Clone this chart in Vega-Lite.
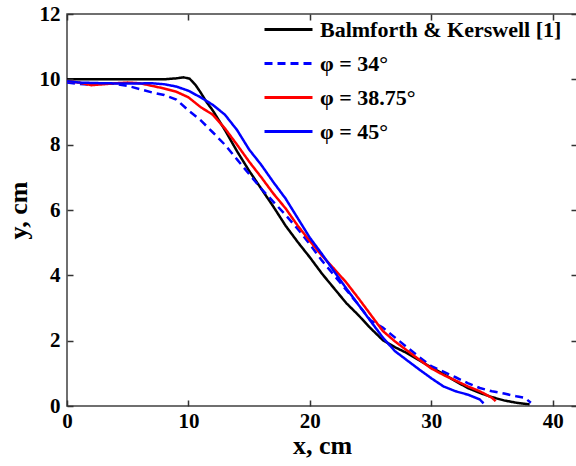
{
  "$schema": "https://vega.github.io/schema/vega-lite/v6.json",
  "width": 510,
  "height": 392,
  "autosize": {"type": "none"},
  "padding": {"left": 67, "top": 14, "right": 0, "bottom": 60},
  "background": "white",
  "config": {
    "view": {"stroke": "#404040", "strokeWidth": 1.5},
    "font": "Liberation Serif"
  },
  "datasets": {
    "curves": [
      {"s": "Balmforth & Kerswell [1]", "x": 0, "y": 10.0},
      {"s": "Balmforth & Kerswell [1]", "x": 4, "y": 10.0},
      {"s": "Balmforth & Kerswell [1]", "x": 8, "y": 10.0},
      {"s": "Balmforth & Kerswell [1]", "x": 9, "y": 10.03},
      {"s": "Balmforth & Kerswell [1]", "x": 9.6, "y": 10.06},
      {"s": "Balmforth & Kerswell [1]", "x": 10.1, "y": 10.02},
      {"s": "Balmforth & Kerswell [1]", "x": 10.6, "y": 9.82},
      {"s": "Balmforth & Kerswell [1]", "x": 11, "y": 9.6},
      {"s": "Balmforth & Kerswell [1]", "x": 11.5, "y": 9.3},
      {"s": "Balmforth & Kerswell [1]", "x": 12, "y": 9.05},
      {"s": "Balmforth & Kerswell [1]", "x": 12.5, "y": 8.75},
      {"s": "Balmforth & Kerswell [1]", "x": 13, "y": 8.45},
      {"s": "Balmforth & Kerswell [1]", "x": 14, "y": 7.8},
      {"s": "Balmforth & Kerswell [1]", "x": 15, "y": 7.2},
      {"s": "Balmforth & Kerswell [1]", "x": 16, "y": 6.65},
      {"s": "Balmforth & Kerswell [1]", "x": 17, "y": 6.1},
      {"s": "Balmforth & Kerswell [1]", "x": 18, "y": 5.52},
      {"s": "Balmforth & Kerswell [1]", "x": 19, "y": 5.02},
      {"s": "Balmforth & Kerswell [1]", "x": 20, "y": 4.55},
      {"s": "Balmforth & Kerswell [1]", "x": 21, "y": 4.05},
      {"s": "Balmforth & Kerswell [1]", "x": 22, "y": 3.6},
      {"s": "Balmforth & Kerswell [1]", "x": 23, "y": 3.15},
      {"s": "Balmforth & Kerswell [1]", "x": 24, "y": 2.78},
      {"s": "Balmforth & Kerswell [1]", "x": 25, "y": 2.38},
      {"s": "Balmforth & Kerswell [1]", "x": 26, "y": 2.02},
      {"s": "Balmforth & Kerswell [1]", "x": 27, "y": 1.8},
      {"s": "Balmforth & Kerswell [1]", "x": 28, "y": 1.62},
      {"s": "Balmforth & Kerswell [1]", "x": 29, "y": 1.4},
      {"s": "Balmforth & Kerswell [1]", "x": 30, "y": 1.18},
      {"s": "Balmforth & Kerswell [1]", "x": 31, "y": 0.98},
      {"s": "Balmforth & Kerswell [1]", "x": 32, "y": 0.76},
      {"s": "Balmforth & Kerswell [1]", "x": 33, "y": 0.55},
      {"s": "Balmforth & Kerswell [1]", "x": 34, "y": 0.4},
      {"s": "Balmforth & Kerswell [1]", "x": 35, "y": 0.27},
      {"s": "Balmforth & Kerswell [1]", "x": 36, "y": 0.17},
      {"s": "Balmforth & Kerswell [1]", "x": 37, "y": 0.1},
      {"s": "Balmforth & Kerswell [1]", "x": 38.1, "y": 0.05},

      {"s": "φ = 34°", "x": 0, "y": 9.9},
      {"s": "φ = 34°", "x": 1, "y": 9.86},
      {"s": "φ = 34°", "x": 2, "y": 9.84},
      {"s": "φ = 34°", "x": 3, "y": 9.88},
      {"s": "φ = 34°", "x": 4, "y": 9.86},
      {"s": "φ = 34°", "x": 5, "y": 9.8},
      {"s": "φ = 34°", "x": 6, "y": 9.7},
      {"s": "φ = 34°", "x": 7, "y": 9.6},
      {"s": "φ = 34°", "x": 8, "y": 9.52},
      {"s": "φ = 34°", "x": 9, "y": 9.38},
      {"s": "φ = 34°", "x": 10, "y": 9.05},
      {"s": "φ = 34°", "x": 11, "y": 8.75},
      {"s": "φ = 34°", "x": 12, "y": 8.38},
      {"s": "φ = 34°", "x": 13, "y": 8.0},
      {"s": "φ = 34°", "x": 14, "y": 7.55},
      {"s": "φ = 34°", "x": 15, "y": 7.1},
      {"s": "φ = 34°", "x": 16, "y": 6.65},
      {"s": "φ = 34°", "x": 17, "y": 6.25},
      {"s": "φ = 34°", "x": 18, "y": 5.85},
      {"s": "φ = 34°", "x": 19, "y": 5.42},
      {"s": "φ = 34°", "x": 20, "y": 4.95},
      {"s": "φ = 34°", "x": 21, "y": 4.45},
      {"s": "φ = 34°", "x": 22, "y": 4.0},
      {"s": "φ = 34°", "x": 23, "y": 3.55},
      {"s": "φ = 34°", "x": 24, "y": 3.1},
      {"s": "φ = 34°", "x": 25, "y": 2.62},
      {"s": "φ = 34°", "x": 26, "y": 2.4},
      {"s": "φ = 34°", "x": 27, "y": 2.1},
      {"s": "φ = 34°", "x": 28, "y": 1.8},
      {"s": "φ = 34°", "x": 29, "y": 1.5},
      {"s": "φ = 34°", "x": 30, "y": 1.22},
      {"s": "φ = 34°", "x": 31, "y": 1.05},
      {"s": "φ = 34°", "x": 32, "y": 0.88},
      {"s": "φ = 34°", "x": 33, "y": 0.7},
      {"s": "φ = 34°", "x": 34, "y": 0.55},
      {"s": "φ = 34°", "x": 35, "y": 0.45},
      {"s": "φ = 34°", "x": 36, "y": 0.38},
      {"s": "φ = 34°", "x": 37, "y": 0.3},
      {"s": "φ = 34°", "x": 37.7, "y": 0.25},
      {"s": "φ = 34°", "x": 38.2, "y": 0.1},

      {"s": "φ = 38.75°", "x": 0, "y": 9.95},
      {"s": "φ = 38.75°", "x": 1, "y": 9.9},
      {"s": "φ = 38.75°", "x": 2, "y": 9.82},
      {"s": "φ = 38.75°", "x": 3, "y": 9.85},
      {"s": "φ = 38.75°", "x": 4, "y": 9.88},
      {"s": "φ = 38.75°", "x": 5, "y": 9.9},
      {"s": "φ = 38.75°", "x": 6, "y": 9.88},
      {"s": "φ = 38.75°", "x": 7, "y": 9.8},
      {"s": "φ = 38.75°", "x": 8, "y": 9.72},
      {"s": "φ = 38.75°", "x": 9, "y": 9.62},
      {"s": "φ = 38.75°", "x": 10, "y": 9.45},
      {"s": "φ = 38.75°", "x": 11, "y": 9.15},
      {"s": "φ = 38.75°", "x": 12, "y": 8.92},
      {"s": "φ = 38.75°", "x": 13, "y": 8.5},
      {"s": "φ = 38.75°", "x": 14, "y": 8.0},
      {"s": "φ = 38.75°", "x": 15, "y": 7.48},
      {"s": "φ = 38.75°", "x": 16, "y": 7.0},
      {"s": "φ = 38.75°", "x": 17, "y": 6.5},
      {"s": "φ = 38.75°", "x": 18, "y": 6.05},
      {"s": "φ = 38.75°", "x": 19, "y": 5.52},
      {"s": "φ = 38.75°", "x": 20, "y": 5.05},
      {"s": "φ = 38.75°", "x": 21, "y": 4.6},
      {"s": "φ = 38.75°", "x": 22, "y": 4.2},
      {"s": "φ = 38.75°", "x": 23, "y": 3.78},
      {"s": "φ = 38.75°", "x": 24, "y": 3.3},
      {"s": "φ = 38.75°", "x": 25, "y": 2.8},
      {"s": "φ = 38.75°", "x": 26, "y": 2.3},
      {"s": "φ = 38.75°", "x": 27, "y": 1.98},
      {"s": "φ = 38.75°", "x": 28, "y": 1.7},
      {"s": "φ = 38.75°", "x": 29, "y": 1.42},
      {"s": "φ = 38.75°", "x": 30, "y": 1.15},
      {"s": "φ = 38.75°", "x": 31, "y": 0.95},
      {"s": "φ = 38.75°", "x": 32, "y": 0.78},
      {"s": "φ = 38.75°", "x": 33, "y": 0.6},
      {"s": "φ = 38.75°", "x": 34, "y": 0.45},
      {"s": "φ = 38.75°", "x": 35, "y": 0.25},
      {"s": "φ = 38.75°", "x": 35.3, "y": 0.15},

      {"s": "φ = 45°", "x": 0, "y": 9.95},
      {"s": "φ = 45°", "x": 1, "y": 9.9},
      {"s": "φ = 45°", "x": 3, "y": 9.88},
      {"s": "φ = 45°", "x": 5, "y": 9.87},
      {"s": "φ = 45°", "x": 7, "y": 9.88},
      {"s": "φ = 45°", "x": 8, "y": 9.85},
      {"s": "φ = 45°", "x": 9, "y": 9.78},
      {"s": "φ = 45°", "x": 10, "y": 9.65},
      {"s": "φ = 45°", "x": 11, "y": 9.45},
      {"s": "φ = 45°", "x": 12, "y": 9.22},
      {"s": "φ = 45°", "x": 13, "y": 8.92},
      {"s": "φ = 45°", "x": 14, "y": 8.45},
      {"s": "φ = 45°", "x": 15, "y": 7.85},
      {"s": "φ = 45°", "x": 16, "y": 7.38},
      {"s": "φ = 45°", "x": 17, "y": 6.85},
      {"s": "φ = 45°", "x": 18, "y": 6.35},
      {"s": "φ = 45°", "x": 19, "y": 5.75},
      {"s": "φ = 45°", "x": 20, "y": 5.15},
      {"s": "φ = 45°", "x": 21, "y": 4.65},
      {"s": "φ = 45°", "x": 22, "y": 4.12},
      {"s": "φ = 45°", "x": 23, "y": 3.6},
      {"s": "φ = 45°", "x": 24, "y": 3.1},
      {"s": "φ = 45°", "x": 25, "y": 2.6},
      {"s": "φ = 45°", "x": 26, "y": 2.1},
      {"s": "φ = 45°", "x": 27, "y": 1.68},
      {"s": "φ = 45°", "x": 28, "y": 1.4},
      {"s": "φ = 45°", "x": 29, "y": 1.12},
      {"s": "φ = 45°", "x": 30, "y": 0.85},
      {"s": "φ = 45°", "x": 31, "y": 0.6},
      {"s": "φ = 45°", "x": 32, "y": 0.45},
      {"s": "φ = 45°", "x": 33, "y": 0.35},
      {"s": "φ = 45°", "x": 34, "y": 0.2},
      {"s": "φ = 45°", "x": 34.3, "y": 0.08}
    ]
  },
  "data": {"name": "curves"},
  "mark": {"type": "line", "strokeWidth": 2.5, "clip": true},
  "encoding": {
    "x": {
      "field": "x", "type": "quantitative",
      "scale": {"domain": [0, 42], "nice": false, "zero": false},
      "axis": {
        "orient": "bottom", "values": [0, 10, 20, 30, 40], "zindex": 1,
        "grid": true, "gridColor": "#333333", "gridOpacity": 1, "gridWidth": 1.5,
        "gridDash": [6, 380, 6, 100],
        "domain": false, "ticks": false,
        "labelPadding": 4, "labelFont": "Liberation Serif", "labelFontWeight": "bold",
        "labelFontSize": 21, "labelColor": "black", "labelFlush": false,
        "title": "x, cm", "titleFont": "Liberation Serif", "titleFontWeight": "bold",
        "titleFontSize": 26, "titleColor": "black", "titlePadding": 1
      }
    },
    "y": {
      "field": "y", "type": "quantitative",
      "scale": {"domain": [0, 12], "nice": false, "zero": false},
      "axis": {
        "orient": "left", "values": [0, 2, 4, 6, 8, 10, 12], "zindex": 1,
        "grid": true, "gridColor": "#333333", "gridOpacity": 1, "gridWidth": 1.5,
        "gridDash": [6, 498, 6, 100],
        "domain": false, "ticks": false,
        "labelPadding": 7, "labelFont": "Liberation Serif", "labelFontWeight": "bold",
        "labelFontSize": 21, "labelColor": "black", "labelFlush": false,
        "title": "y, cm", "titleFont": "Liberation Serif", "titleFontWeight": "bold",
        "titleFontSize": 26, "titleColor": "black", "titlePadding": 8
      }
    },
    "color": {
      "field": "s", "type": "nominal",
      "scale": {
        "domain": ["Balmforth & Kerswell [1]", "φ = 34°", "φ = 38.75°", "φ = 45°"],
        "range": ["#000000", "#0000ff", "#ff0000", "#0000ff"]
      },
      "legend": {
        "title": null, "orient": "none", "legendX": 196, "legendY": 2,
        "symbolType": "M-1,0H3", "symbolSize": 576, "symbolStrokeWidth": 3,
        "labelFont": "Liberation Serif", "labelFontWeight": "bold", "labelFontSize": 22,
        "labelColor": "black", "labelLimit": 400, "rowPadding": 9, "labelOffset": 30
      }
    },
    "strokeDash": {
      "field": "s", "type": "nominal",
      "scale": {
        "domain": ["Balmforth & Kerswell [1]", "φ = 34°", "φ = 38.75°", "φ = 45°"],
        "range": [[1, 0], [8, 5], [1, 0], [1, 0]]
      },
      "legend": null
    }
  }
}
